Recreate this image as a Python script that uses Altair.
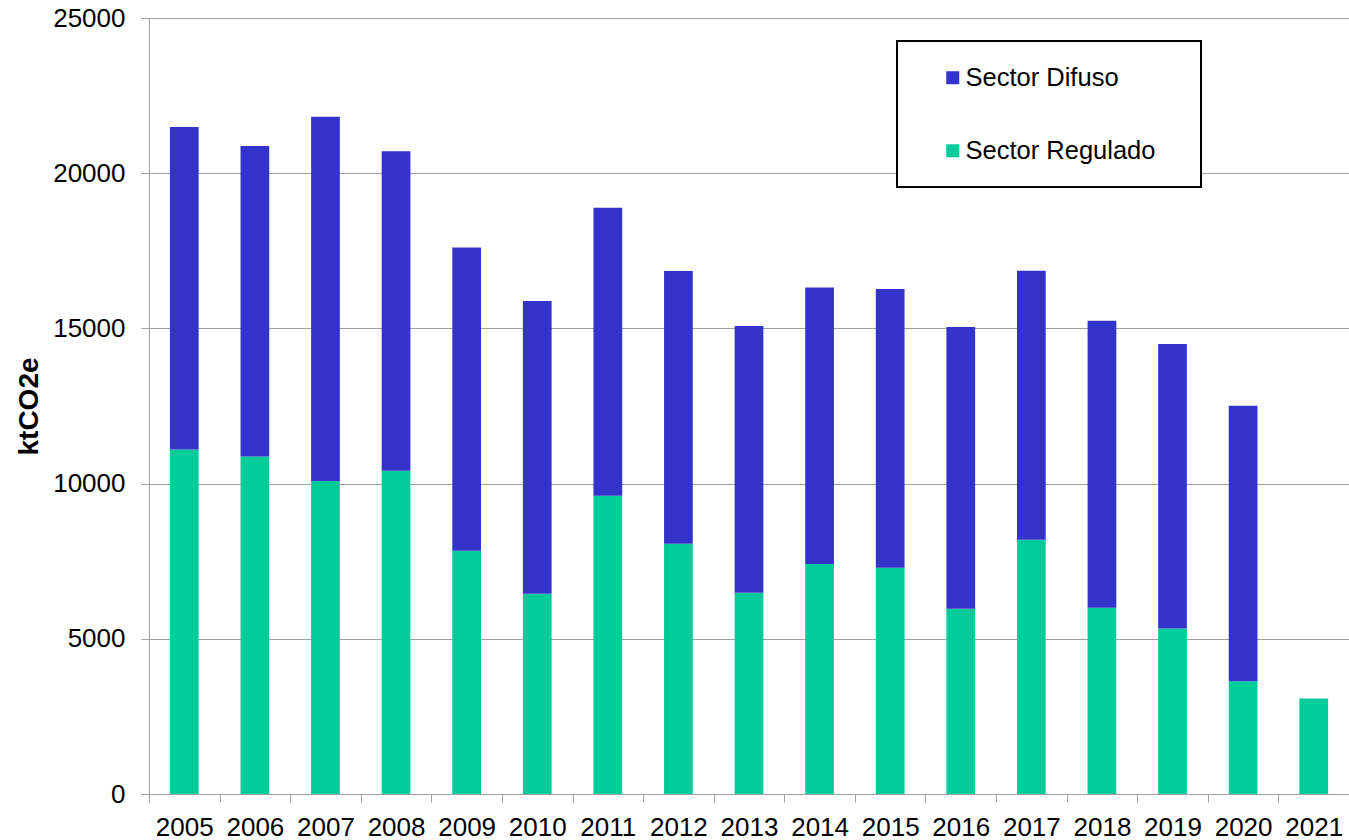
import altair as alt
import pandas as pd

years = [str(y) for y in range(2005, 2022)]
regulado = [11100, 10870, 10085, 10415, 7840, 6455, 9610, 8065, 6485, 7410,
            7290, 5970, 8195, 6000, 5335, 3630, 3080]
difuso = [10390, 10005, 11735, 10290, 9770, 9430, 9280, 8785, 8590, 8910,
          8980, 9075, 8665, 9250, 9160, 8880, 0]

series_names = ["Sector Difuso", "Sector Regulado"]
series_colors = ["#3333CC", "#00CC99"]

rows = []
for i, y in enumerate(years):
    rows.append({"year": y, "serie": "Sector Regulado", "value": regulado[i], "ord": 0})
    rows.append({"year": y, "serie": "Sector Difuso", "value": difuso[i], "ord": 1})
df = pd.DataFrame(rows)

FONT = "Liberation Sans"
PAD_IN = 0.593
STEP = 1200 / len(years)
HALF_GAP = PAD_IN * STEP / 2

bars = alt.Chart(df).mark_bar().encode(
    x=alt.X("year:N", sort=years,
            scale=alt.Scale(paddingInner=PAD_IN, paddingOuter=PAD_IN / 2),
            axis=alt.Axis(title=None, labelAngle=0, bandPosition=0,
                          tickOffset=-HALF_GAP, labelOffset=HALF_GAP,
                          tickSize=8, tickColor="#a0a0a0", domainColor="#a0a0a0",
                          labelFont=FONT, labelFontSize=26, labelColor="black",
                          labelPadding=12, grid=False)),
    y=alt.Y("value:Q", stack="zero",
            scale=alt.Scale(domain=[0, 25000], nice=False),
            axis=alt.Axis(title="ktCO2e", values=[0, 5000, 10000, 15000, 20000, 25000],
                          format="d", tickSize=8, tickColor="#a0a0a0",
                          domainColor="#a0a0a0", gridColor="#a0a0a0", grid=True,
                          labelFont=FONT, labelFontSize=26, labelColor="black",
                          labelPadding=16, titleFont=FONT, titleFontSize=28,
                          titleFontWeight="bold", titleColor="black", titlePadding=9)),
    color=alt.Color("serie:N",
                    scale=alt.Scale(domain=series_names, range=series_colors),
                    legend=alt.Legend(title=None, orient="none", legendX=748, legendY=23,
                                      padding=24, symbolOffset=19,
                                      symbolType="square", symbolSize=169,
                                      symbolStrokeWidth=0, labelFont=FONT,
                                      labelFontSize=25.5, labelColor="black",
                                      labelOffset=0, rowPadding=46, labelLimit=500)),
    order=alt.Order("ord:Q", sort="ascending"),
)

frame = alt.Chart(pd.DataFrame({"k": [0]})).mark_rect(
    fill="white", stroke="black", strokeWidth=2
).encode(x=alt.value(748), x2=alt.value(1052), y=alt.value(23), y2=alt.value(169))

chart = alt.layer(bars, frame).properties(
    width=1200, height=776,
    autosize=alt.AutoSizeParams(type="none"),
    padding={"left": 149, "top": 18, "right": 0, "bottom": 46},
).configure_view(stroke=None).configure(background="white")

chart.save("out.html", embed_options={"renderer": "svg", "actions": False})
